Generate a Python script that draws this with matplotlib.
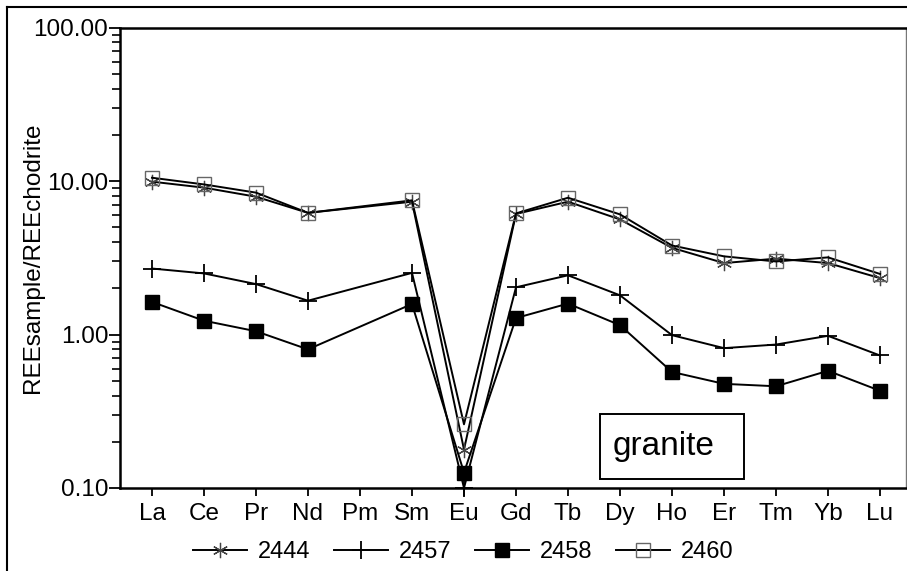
import numpy as np
import matplotlib
matplotlib.use('Agg')
import matplotlib.pyplot as plt
from matplotlib.lines import Line2D
from matplotlib.patches import Rectangle

plt.rcParams['font.family'] = ['Liberation Sans', 'DejaVu Sans']

######## DATA ########

ELEMENTS = ['La', 'Ce', 'Pr', 'Nd', 'Pm', 'Sm', 'Eu', 'Gd', 'Tb', 'Dy', 'Ho', 'Er', 'Tm', 'Yb', 'Lu']
nan = float('nan')
S2444 = [9.9, 9.05, 7.9, 6.2, nan, 7.33, 0.178, 6.1, 7.33, 5.62, 3.67, 2.92, 3.12, 2.92, 2.33]
S2457 = [2.69, 2.5, 2.13, 1.66, nan, 2.52, 0.10, 2.03, 2.43, 1.80, 0.99, 0.815, 0.86, 0.98, 0.73]
S2458 = [1.63, 1.23, 1.05, 0.80, nan, 1.58, 0.126, 1.28, 1.59, 1.15, 0.57, 0.477, 0.46, 0.58, 0.43]
S2460 = [10.5, 9.5, 8.4, 6.2, nan, 7.48, 0.26, 6.15, 7.78, 6.06, 3.80, 3.23, 2.99, 3.18, 2.48]
SAMPLE_NAMES = ['2444', '2457', '2458', '2460']
Y_TICKS = [0.1, 1, 10, 100]
Y_TICK_LABELS = ['0.10', '1.00', '10.00', '100.00']

FS = 17.5


def plot_series(ax, values, label, **style):
    x = np.arange(len(ELEMENTS))
    y = np.array(values, dtype=float)
    ok = ~np.isnan(y)  # Pm has no data, line joins Nd to Sm
    ax.plot(x[ok], y[ok], color='k', lw=1.4, label=label, clip_on=False, **style)


fig = plt.figure(figsize=(9.07, 5.71), dpi=100)
ax = fig.add_axes([120/907, 1-488/571, 786/907, 460.5/571])

plot_series(ax, S2444, SAMPLE_NAMES[0], marker=(6, 2, 0), ms=11, mec='#444444', mew=0.9)
plot_series(ax, S2457, SAMPLE_NAMES[1], marker='+', ms=13, mec='k', mew=1.3)
plot_series(ax, S2458, SAMPLE_NAMES[2], marker='s', ms=10, mfc='k', mec='k')
plot_series(ax, S2460, SAMPLE_NAMES[3], marker='s', ms=10, mfc='none', mec='#666666', mew=1.0)

ax.set_yscale('log')
ax.set_ylim(0.1, 100)
ax.set_xlim(-0.615, 14.5)
ax.set_yticks(Y_TICKS)
ax.set_yticklabels(Y_TICK_LABELS)
ax.yaxis.set_minor_locator(matplotlib.ticker.LogLocator(base=10, subs=np.arange(2, 10)))
ax.yaxis.set_minor_formatter(matplotlib.ticker.NullFormatter())
ax.set_xticks(np.arange(len(ELEMENTS)))
ax.set_xticklabels(ELEMENTS)

ax.tick_params(axis='x', which='major', direction='out', length=6, width=1.3,
               labelsize=FS, pad=5)
ax.tick_params(axis='y', which='major', direction='out', length=8, width=1.3,
               labelsize=FS, pad=0.5)
ax.tick_params(axis='y', which='minor', direction='out', length=6, width=1.2)
ax.set_ylabel('REEsample/REEchodrite', fontsize=FS)
ax.yaxis.set_label_coords(-0.097, 0.5)

for side in ['left', 'bottom', 'top']:
    ax.spines[side].set_linewidth(1.8)
ax.spines['right'].set_linewidth(1.0)
ax.spines['right'].set_color('#777777')

# label box
ax.add_patch(Rectangle((0.611, 0.0195), 0.183, 0.1415, transform=ax.transAxes,
                       fill=False, ec='k', lw=1.4))
ax.text(0.6265, 0.09, 'granite', transform=ax.transAxes, fontsize=24,
        ha='left', va='center')

fig.legend(loc='center', bbox_to_anchor=(463/907, 1-552/571), ncol=4, frameon=False,
           fontsize=17, handlelength=2.3, handletextpad=0.45, columnspacing=1.0,
           borderpad=0)

# outer frame of the scanned figure
fig.add_artist(Line2D([7/907, 7/907], [0, 1-7/571], transform=fig.transFigure, color='k', lw=1.5))
fig.add_artist(Line2D([7/907, 1], [1-7/571, 1-7/571], transform=fig.transFigure, color='k', lw=1.5))

fig.savefig('out.png', dpi=100)
